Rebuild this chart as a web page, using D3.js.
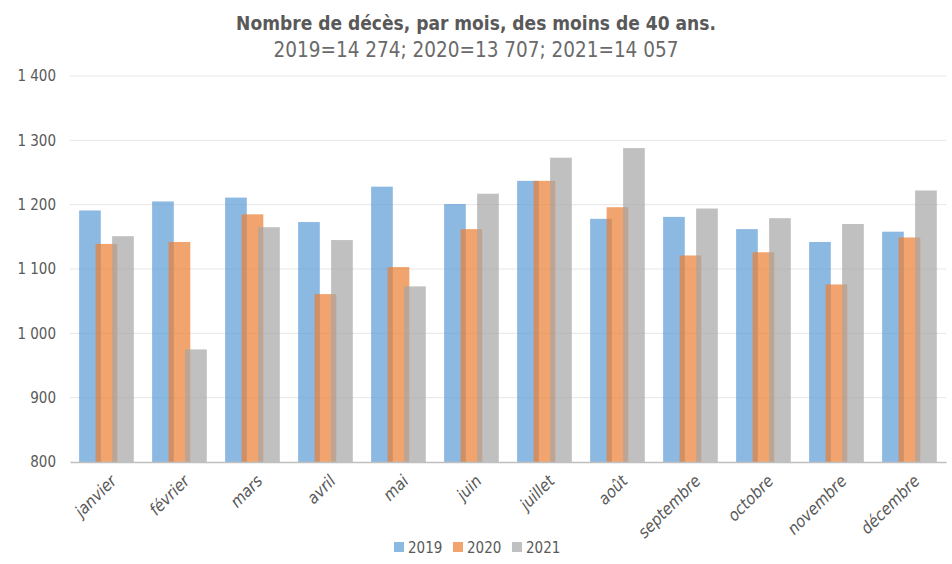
<!DOCTYPE html>
<html lang="fr">
<head>
<meta charset="utf-8">
<script src="https://d3js.org/d3.v7.min.js"></script>
<style>
  body { margin: 0; background: #fff; }
  text { font-family: "DejaVu Sans Condensed", "Liberation Sans", sans-serif; fill: #595959; }
  .title { font-size: 19px; font-weight: bold; text-anchor: middle; }
  .subtitle { font-size: 20.5px; text-anchor: middle; fill: #6a6a6a; }
</style>
</head>
<body>
<div id="chart"></div>
<script>
const months = ["janvier", "février", "mars", "avril", "mai", "juin", "juillet", "août", "septembre", "octobre", "novembre", "décembre"];
const years = ["2019", "2020", "2021"];
const deaths2019 = [1191, 1205, 1211, 1173, 1228, 1201, 1237, 1178, 1181, 1162, 1142, 1158];
const deaths2020 = [1139, 1142, 1185, 1061, 1103, 1162, 1237, 1196, 1121, 1126, 1076, 1149];
const deaths2021 = [1151, 975, 1165, 1145, 1073, 1217, 1273, 1288, 1194, 1179, 1170, 1222];
const yTicks = [800, 900, 1000, 1100, 1200, 1300, 1400];

const series = [deaths2019, deaths2020, deaths2021];
const colors = ["#5B9BD5", "#ED7D31", "#A5A5A5"];

const width = 952, height = 564;
const margin = { top: 76, right: 6, bottom: 102, left: 70 };

const svg = d3.select("#chart").append("svg")
    .attr("width", width)
    .attr("height", height);

svg.append("text").attr("class", "title")
    .attr("x", width / 2).attr("y", 30)
    .text("Nombre de décès, par mois, des moins de 40 ans.");
svg.append("text").attr("class", "subtitle")
    .attr("x", width / 2).attr("y", 57)
    .text("2019=14 274; 2020=13 707; 2021=14 057");

const x = d3.scaleBand().domain(months).range([margin.left, width - margin.right]);
const y = d3.scaleLinear().domain([800, 1400]).range([height - margin.bottom, margin.top]);

// grid
svg.append("g")
    .selectAll("line")
    .data(yTicks.slice(1))
    .join("line")
    .attr("x1", margin.left).attr("x2", width - margin.right)
    .attr("y1", d => y(d)).attr("y2", d => y(d))
    .attr("stroke", "#E6E6E6").attr("stroke-width", 1);

const fmt = d => d3.format(",")(d).replace(",", " ");
const yAxis = svg.append("g")
    .attr("transform", `translate(${margin.left},0)`)
    .call(d3.axisLeft(y).tickValues(yTicks).tickFormat(fmt).tickSize(0).tickPadding(14));
yAxis.select(".domain").remove();
yAxis.selectAll("text").attr("fill", "#595959").style("font-size", "15px");

// bars
const bw = x.bandwidth() * 0.297;
const step = x.bandwidth() * 0.226;
const pad = x.bandwidth() * 0.125;
series.forEach((vals, i) => {
    svg.append("g")
        .selectAll("rect")
        .data(vals)
        .join("rect")
        .attr("x", (d, j) => x(months[j]) + pad + i * step)
        .attr("y", d => y(d))
        .attr("width", bw)
        .attr("height", d => y(800) - y(d))
        .attr("fill", colors[i])
        .attr("fill-opacity", 0.7);
});

// x axis
const xAxis = svg.append("g")
    .attr("transform", `translate(0,${y(800)})`)
    .call(d3.axisBottom(x).tickSize(0).tickFormat(""));
xAxis.select(".domain").attr("stroke", "#BFBFBF").attr("stroke-width", 1.5);

svg.append("g")
    .selectAll("text")
    .data(months)
    .join("text")
    .attr("transform", d => `translate(${x(d) + x.bandwidth() / 2 + 7},${y(800) + 16}) rotate(-45)`)
    .attr("text-anchor", "end")
    .attr("dy", "0.35em")
    .style("font-size", "16.5px")
    .style("font-style", "italic")
    .text(d => d);

// legend
const legend = svg.append("g").attr("transform", "translate(394,547)");
years.forEach((yr, i) => {
    const g = legend.append("g").attr("transform", `translate(${i * 59},0)`);
    g.append("rect").attr("x", 0).attr("y", -5).attr("width", 10).attr("height", 10)
        .attr("fill", colors[i]).attr("fill-opacity", 0.7);
    g.append("text").attr("x", 14).attr("y", 5.5).style("font-size", "15px").text(yr);
});
</script>
</body>
</html>
